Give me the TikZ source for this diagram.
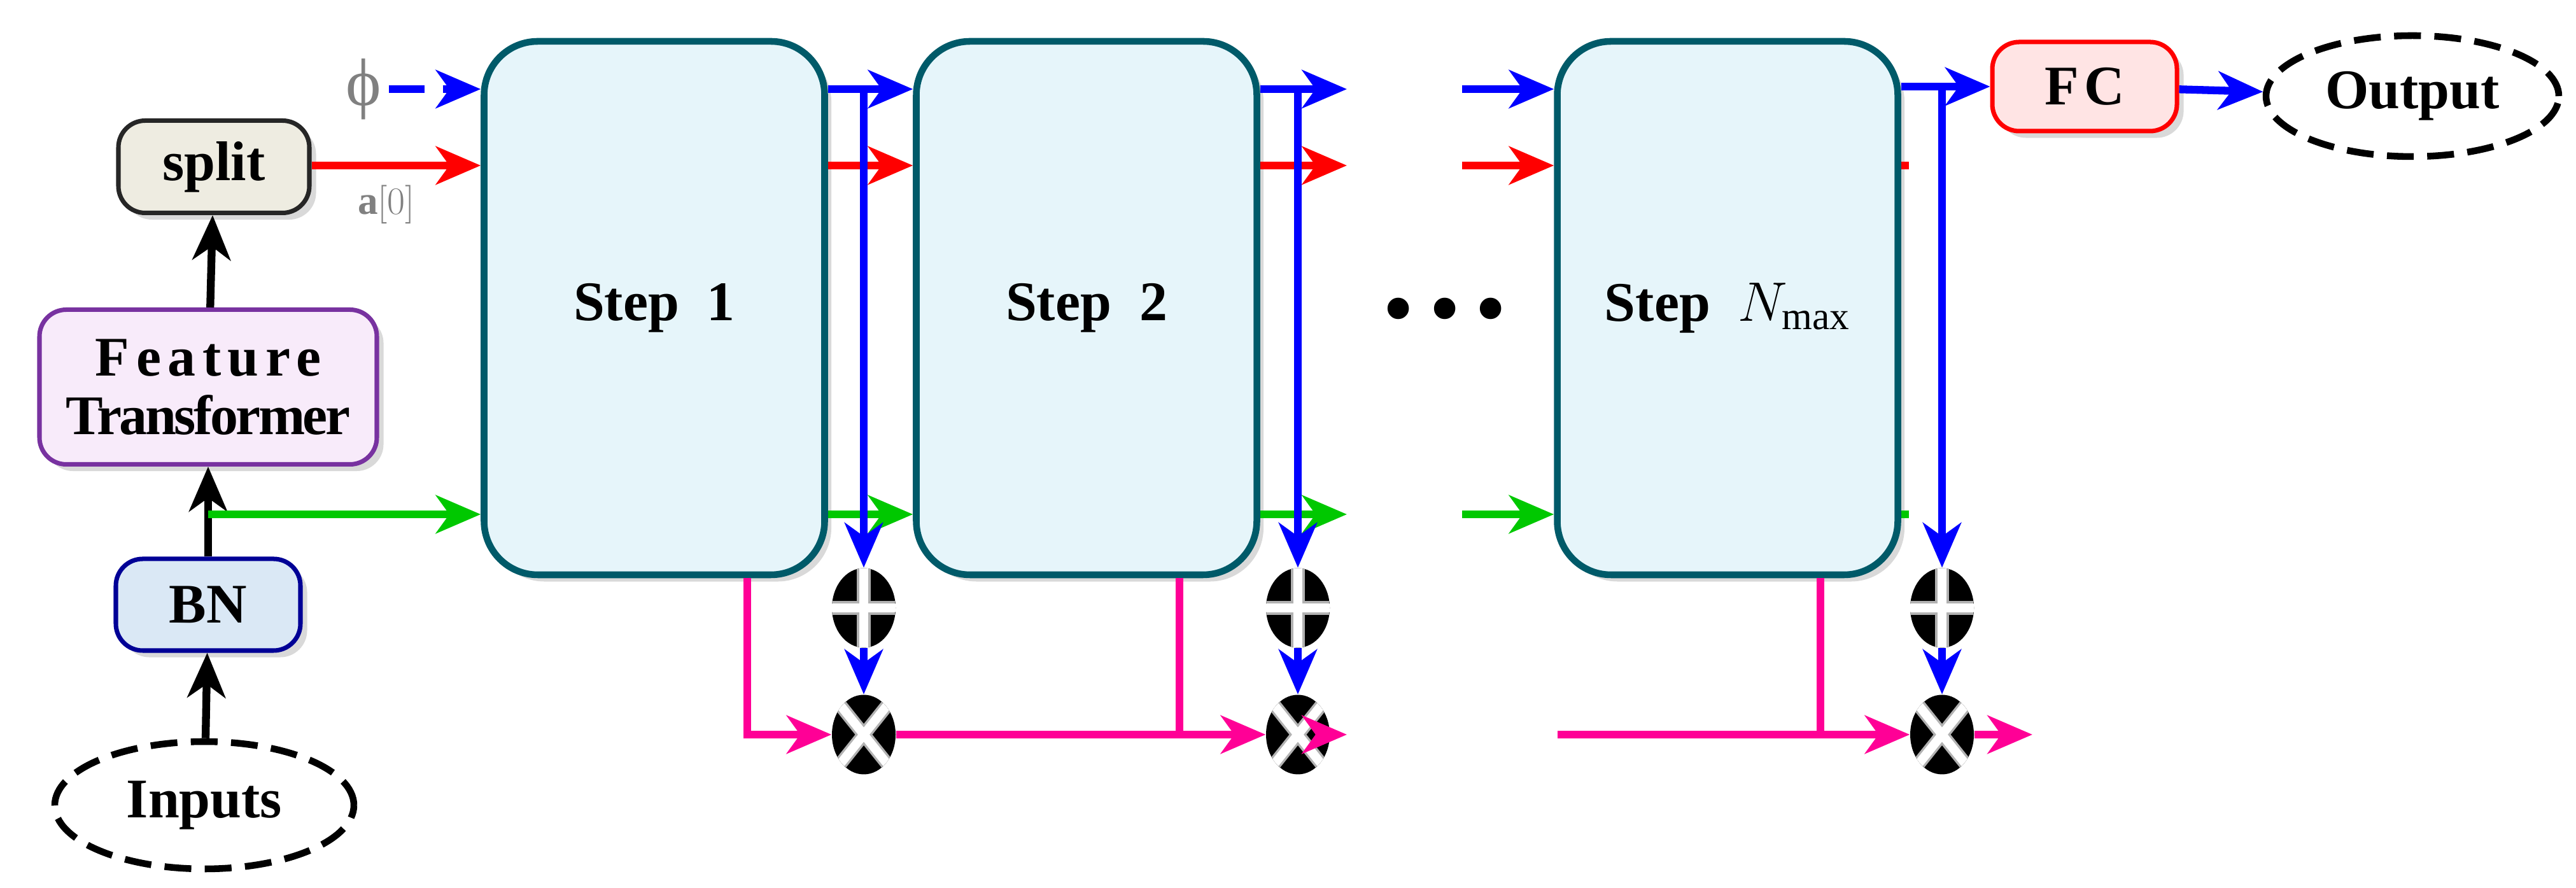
\documentclass[tikz,border=0pt]{standalone}
\usepackage{fontspec}
\setmainfont{Liberation Serif}
\usetikzlibrary{positioning,shapes.geometric,arrows.meta,shadows}

\definecolor{stepfill}{RGB}{230,245,250}
\definecolor{stepdraw}{RGB}{0,90,105}
\definecolor{splitfill}{RGB}{238,236,225}
\definecolor{ftfill}{RGB}{248,235,250}
\definecolor{ftdraw}{RGB}{120,50,160}
\definecolor{bnfill}{RGB}{218,232,245}
\definecolor{bndraw}{RGB}{0,0,150}
\definecolor{fcfill}{RGB}{255,228,228}
\definecolor{maskpink}{RGB}{255,0,150}
\definecolor{featgreen}{RGB}{0,200,0}

\tikzset{
    box/.style={draw, rounded corners=12pt, line width=2pt, font=\fontsize{25}{30}\selectfont\bfseries,
        align=center, drop shadow={opacity=0.3, shadow xshift=3pt, shadow yshift=-3pt}},
    stepbox/.style={box, fill=stepfill, draw=stepdraw, rounded corners=24pt, line width=3pt,
        minimum width=5.35cm, minimum height=8.38cm},
    term/.style={ellipse, draw, line width=3pt, dash pattern=on 12pt off 6pt,
        font=\fontsize{25}{30}\selectfont\bfseries},
    op/.style={ellipse, fill=black, minimum width=1.0cm, minimum height=1.25cm, inner sep=0pt},
    opplus/.style={op, path picture={
        \draw[gray!60, line width=6pt] (path picture bounding box.north) -- (path picture bounding box.south)
            (path picture bounding box.west) -- (path picture bounding box.east);
        \draw[white, line width=4pt] (path picture bounding box.north) -- (path picture bounding box.south)
            (path picture bounding box.west) -- (path picture bounding box.east);}},
    optimes/.style={op, path picture={
        \draw[gray!60, line width=6pt] (path picture bounding box.north west) -- (path picture bounding box.south east)
            (path picture bounding box.north east) -- (path picture bounding box.south west);
        \draw[white, line width=4pt] (path picture bounding box.north west) -- (path picture bounding box.south east)
            (path picture bounding box.north east) -- (path picture bounding box.south west);}},
    flow/.style={line width=3.5pt, -{Stealth[length=20pt, width=17pt, inset=6pt]}},
    plain/.style={line width=3.5pt},
}

\begin{document}
\begin{tikzpicture}
    \useasboundingbox (0,0) rectangle (40.47,13.95);

    % left column
    \node[term, minimum width=4.7cm, minimum height=2cm] (inputs) at (3.21,1.30) {Inputs};
    \node[box, fill=bnfill, draw=bndraw, minimum width=2.9cm, minimum height=1.44cm] (bn) at (3.27,4.45) {BN};
    \node[box, fill=ftfill, draw=ftdraw, minimum width=5.3cm, minimum height=2.43cm, inner sep=2pt] (ft) at (3.27,7.87)
        {{\addfontfeature{LetterSpace=12}Feature}\\[-4pt]{\addfontfeature{LetterSpace=-4}Transformer}};
    \node[box, fill=splitfill, draw=black!85, minimum width=3cm, minimum height=1.45cm] (split) at (3.36,11.33) {split};

    % steps
    \node[stepbox] (step1) at (10.28,9.11) {Step~~1};
    \node[stepbox] (step2) at (17.07,9.11) {Step~~2};
    \node[stepbox] (stepN) at (27.14,9.11) {Step~~$N_{\mathrm{max}}$};
    \node[font=\fontsize{40}{40}\selectfont] (dots) at (22.7,8.95) {\textbullet\,\textbullet\,\textbullet};

    % output side
    \node[box, fill=fcfill, draw=red, minimum width=2.9cm, minimum height=1.4cm] (fc) at (32.75,12.59)
        {{\addfontfeature{LetterSpace=10}FC}};
    \node[term, minimum width=4.6cm, minimum height=1.9cm] (output) at (37.9,12.44) {Output};

    % aggregation nodes
    \node[opplus] (add1) at (13.57,4.40) {};
    \node[opplus] (add2) at (20.39,4.40) {};
    \node[opplus] (addN) at (30.51,4.40) {};
    \node[optimes] (mul1) at (13.57,2.41) {};
    \node[optimes] (mul2) at (20.39,2.41) {};
    \node[optimes] (mulN) at (30.51,2.41) {};

    % labels and helper coordinates
    \node[text=gray, font=\fontsize{30}{30}\selectfont] (phi) at (5.71,12.55) {ϕ};
    \node[text=gray, font=\fontsize{18}{20}\selectfont] (a0) at (6.07,10.74) {$\mathbf{a}[0]$};
    \coordinate (gsrc) at (3.27,5.87);
    \coordinate (b2out) at (21.16,12.55);
    \coordinate (r2out) at (21.16,11.35);
    \coordinate (g2out) at (21.16,5.87);
    \coordinate (bNin) at (22.97,12.55);
    \coordinate (rNin) at (22.97,11.35);
    \coordinate (gNin) at (22.97,5.87);
    \coordinate (mNin) at (24.47,2.41);
    \coordinate (m2out) at (21.16,2.41);
    \coordinate (mNout) at (31.93,2.41);

    % backbone
    \draw[flow] (inputs) -- (bn);
    \draw[flow] (bn) -- (ft);
    \draw[flow] (ft) -- (split);
    \draw[flow, featgreen] (gsrc) -- (step1.west |- gsrc);
    \draw[flow, red] (split.east |- 0,11.35) -- (step1.west |- 0,11.35);
    \draw[flow, blue, dash pattern=on 16pt off 8pt] (phi.east) -- (step1.west |- phi);

    % step to step
    \foreach \s/\t in {step1/step2} {
        \draw[flow, blue] (\s.east |- 0,12.55) -- (\t.west |- 0,12.55);
        \draw[flow, red] (\s.east |- 0,11.35) -- (\t.west |- 0,11.35);
        \draw[flow, featgreen] (\s.east |- 0,5.87) -- (\t.west |- 0,5.87);
    }
    \draw[flow, blue] (step2.east |- b2out) -- (b2out);
    \draw[flow, red] (step2.east |- r2out) -- (r2out);
    \draw[flow, featgreen] (step2.east |- g2out) -- (g2out);
    \draw[flow, blue] (bNin) -- (stepN.west |- bNin);
    \draw[flow, red] (rNin) -- (stepN.west |- rNin);
    \draw[flow, featgreen] (gNin) -- (stepN.west |- gNin);
    \draw[plain, red] (stepN.east |- 0,11.35) -- ++(0.12,0);
    \draw[plain, featgreen] (stepN.east |- 0,5.87) -- ++(0.12,0);
    \draw[flow, blue] (stepN.east |- fc) -- (fc);
    \draw[flow, blue] (fc) -- (output);

    % decision outputs
    \foreach \s/\a/\m in {step1/add1/mul1, step2/add2/mul2, stepN/addN/mulN} {
        \draw[flow, blue] (\a |- 0,12.55) -- (\a);
        \draw[flow, blue] (\a) -- (\m);
    }

    % masks
    \draw[flow, maskpink] ([xshift=1.46cm]step1.south) |- (mul1);
    \draw[flow, maskpink] (mul1) -- (mul2);
    \draw[plain, maskpink] ([xshift=1.46cm]step2.south) -- ([xshift=1.46cm]step2.south |- mul2);
    \draw[flow, maskpink] (mul2) -- (m2out);
    \draw[flow, maskpink] (mNin) -- (mulN);
    \draw[plain, maskpink] ([xshift=1.46cm]stepN.south) -- ([xshift=1.46cm]stepN.south |- mulN);
    \draw[flow, maskpink] (mulN) -- (mNout);
\end{tikzpicture}
\end{document}
